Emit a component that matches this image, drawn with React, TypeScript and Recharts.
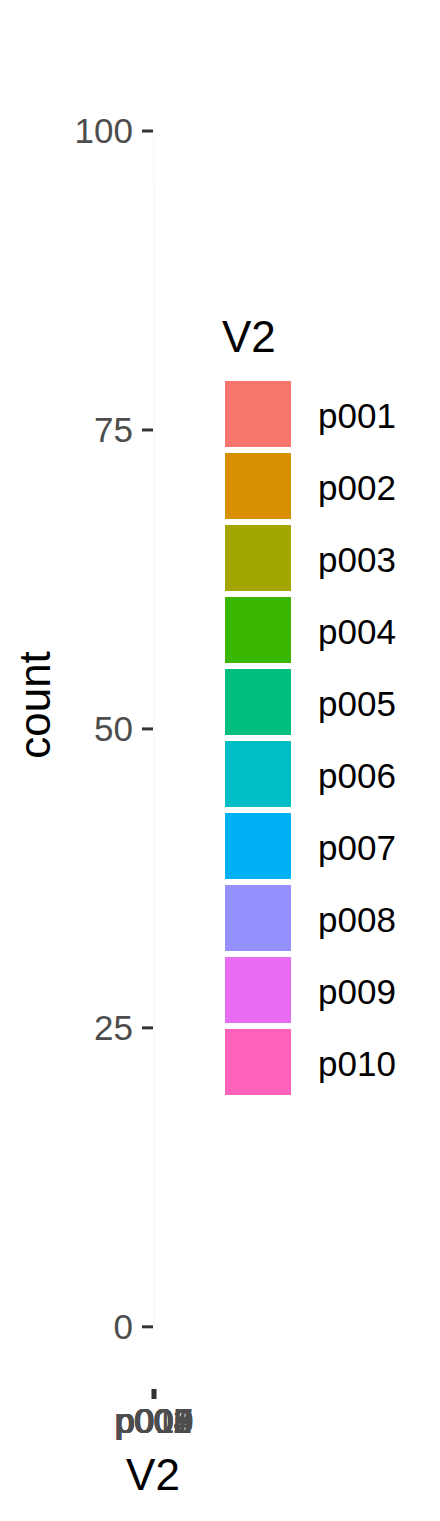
import React from "react";
import { Bar, BarChart, Cell, Label, XAxis, YAxis } from "recharts";

const participants = ["p001", "p002", "p003", "p004", "p005", "p006", "p007", "p008", "p009", "p010"];
const counts = [104, 99, 101, 100, 97, 103, 98, 102, 100, 96];
const hueColors = ["#F8766D", "#D89000", "#A3A500", "#39B600", "#00BF7D", "#00BFC4", "#00B0F6", "#9590FF", "#E76BF3", "#FF62BC"];
const yTicks = [0, 25, 50, 75, 100];

const data = participants.map((V2, i) => ({ V2, count: counts[i] }));
// ggplot-style 5% expansion around 0..max
const maxCount = Math.max(...counts);
const yDomain = [-0.05 * maxCount, 1.05 * maxCount];

const FONT = "'Liberation Sans', Arial, sans-serif";
const tickStyle = { fill: "#4D4D4D", fontSize: 35, fontFamily: FONT };
const tickLine = { stroke: "#333333", strokeWidth: 3 };

function LegendBox() {
  return (
    <svg width={220} height={820} style={{ position: "absolute", left: 215, top: 300 }}>
      <text x={7} y={52} fontSize={44} fontFamily={FONT} fill="#000">V2</text>
      {participants.map((p, i) => (
        <g key={p}>
          <rect x={10} y={81 + 72 * i} width={66} height={66} fill={hueColors[i]} />
          <text x={103} y={128 + 72 * i} fontSize={35} fontFamily={FONT} fill="#000">{p}</text>
        </g>
      ))}
    </svg>
  );
}

export default function App() {
  return (
    <div style={{ position: "absolute", left: 0, top: 0, width: 440, height: 1521, background: "#fff" }}>
      <BarChart width={440} height={1521} data={data} margin={{ top: 21, right: 285, bottom: 0, left: 0 }} barSize={0.01}>
        <XAxis
          dataKey="V2"
          interval={0}
          height={132}
          axisLine={false}
          tickLine={tickLine}
          tickSize={10}
          tickMargin={9}
          tick={tickStyle}
        >
          <Label
            content={({ viewBox }: any) => (
              <text x={viewBox.x + viewBox.width / 2 - 1} y={1490} textAnchor="middle" fontSize={44} fontFamily={FONT} fill="#000">
                V2
              </text>
            )}
          />
        </XAxis>
        <YAxis
          type="number"
          domain={yDomain}
          ticks={yTicks}
          width={153}
          axisLine={false}
          tickLine={tickLine}
          tickSize={11}
          tickMargin={9}
          tick={tickStyle}
        >
          <Label
            content={({ viewBox }: any) => (
              <text
                transform={`translate(50, ${viewBox.y + viewBox.height / 2}) rotate(-90)`}
                textAnchor="middle"
                fontSize={44}
                fontFamily={FONT}
                fill="#000"
              >
                count
              </text>
            )}
          />
        </YAxis>
        <Bar dataKey="count" isAnimationActive={false}>
          {data.map((d, i) => (
            <Cell key={d.V2} fill={hueColors[i]} />
          ))}
        </Bar>
      </BarChart>
      <LegendBox />
    </div>
  );
}
